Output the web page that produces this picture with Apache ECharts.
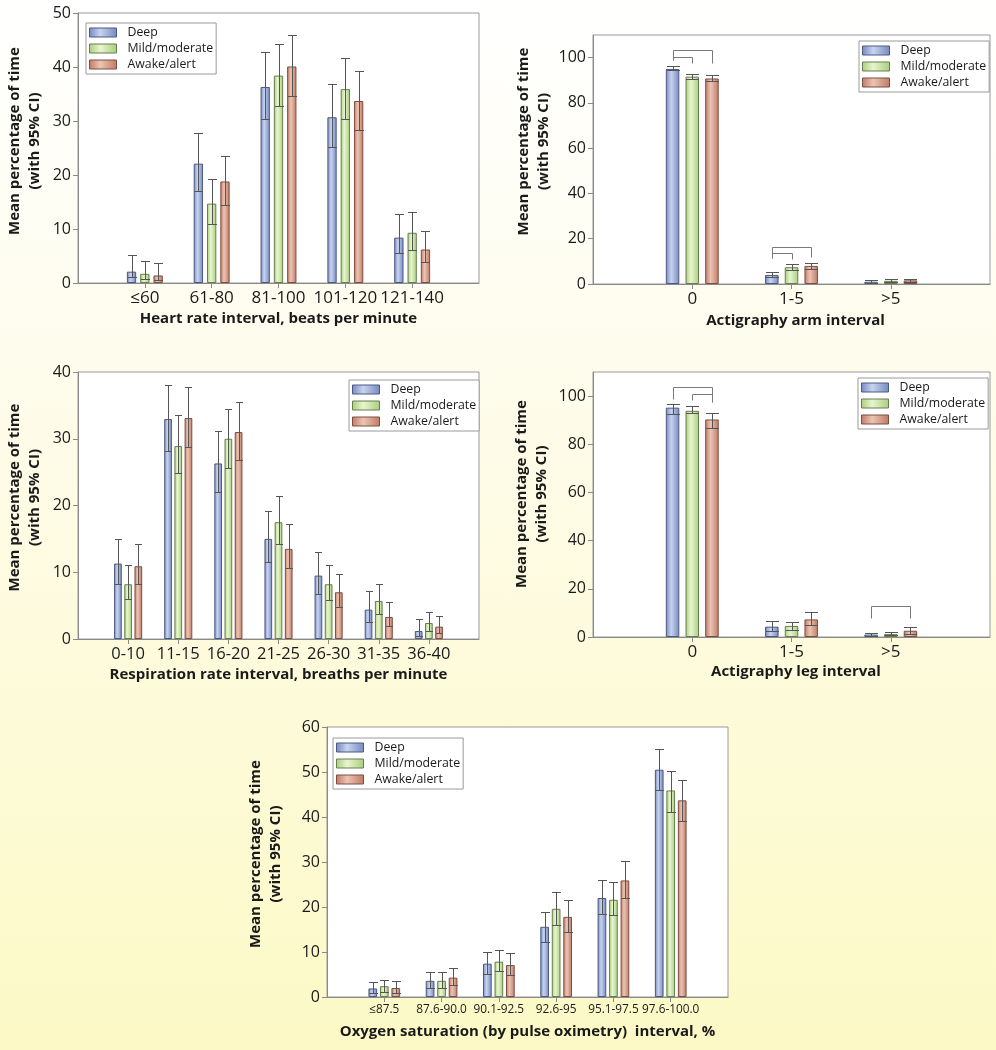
<!DOCTYPE html>
<html>
<head>
<meta charset="utf-8">
<script src="https://cdn.jsdelivr.net/npm/echarts@6/dist/echarts.min.js"></script>
<style>
  html, body { margin: 0; padding: 0; }
  body { width: 996px; height: 1050px; background: linear-gradient(to bottom, #ffffff 0%, #fefcec 35%, #fcf9c6 100%); }
  #chart { width: 996px; height: 1050px; }
</style>
</head>
<body>
<div id="chart"></div>
<script>
// ---------------- DATA ----------------
const seriesNames = ['Deep', 'Mild/moderate', 'Awake/alert'];

// Heart rate
const hrCategories = ['≤60', '61-80', '81-100', '101-120', '121-140'];
const hrDeep  = [2.1, 22.1, 36.3, 30.7, 8.4];
const hrMild  = [1.7, 14.7, 38.4, 35.9, 9.3];
const hrAwake = [1.4, 18.8, 40.1, 33.7, 6.2];
const hrDeepCI  = [[1.05, 5.1], [17.1, 27.7], [30.4, 42.7], [25.1, 36.9], [5.6, 12.8]];
const hrMildCI  = [[0.8, 4.1], [11.0, 19.2], [32.7, 44.3], [30.4, 41.6], [6.2, 13.2]];
const hrAwakeCI = [[0.6, 3.7], [14.5, 23.6], [34.6, 45.9], [28.3, 39.2], [3.9, 9.65]];

// Actigraphy arm
const armCategories = ['0', '1-5', '>5'];
const armDeep  = [95.0, 4.0, 1.0];
const armMild  = [91.6, 7.4, 1.4];
const armAwake = [90.8, 8.0, 1.6];
const armDeepCI  = [[94.5, 96.2], [3.3, 5.3], [0.6, 1.9]];
const armMildCI  = [[90.5, 92.9], [6.3, 8.8], [0.9, 2.0]];
const armAwakeCI = [[89.7, 92.5], [6.8, 9.2], [1.0, 2.2]];
// [category, from series, to series, top, bottom at from, bottom at to]
const armBrackets = [[0, 0, 2, 103.2, 98.9, 97.5], [0, 0, 1, 100.4, 98.9, 97.8],
                     [1, 0, 2, 16.3, 11.4, 11.8], [1, 0, 1, 13.6, 11.4, 10.9]];

// Respiration
const respCategories = ['0-10', '11-15', '16-20', '21-25', '26-30', '31-35', '36-40'];
const respDeep  = [11.3, 32.95, 26.3, 15.0, 9.5, 4.4, 1.2];
const respMild  = [8.2, 28.9, 30.0, 17.5, 8.2, 5.7, 2.4];
const respAwake = [10.9, 33.1, 31.0, 13.5, 7.0, 3.3, 1.85];
const respDeepCI  = [[8.3, 15.0], [28.1, 38.1], [22.0, 31.2], [11.5, 19.2], [6.7, 13.0], [2.6, 7.2], [0.5, 3.0]];
const respMildCI  = [[6.0, 11.1], [24.9, 33.5], [25.6, 34.4], [14.2, 21.4], [5.9, 11.1], [3.8, 8.3], [1.25, 4.1]];
const respAwakeCI = [[8.3, 14.3], [28.7, 37.8], [26.8, 35.5], [10.6, 17.2], [4.8, 9.7], [1.9, 5.6], [0.85, 3.5]];

// Actigraphy leg
const legCategories = ['0', '1-5', '>5'];
const legDeep  = [95.2, 4.3, 1.0];
const legMild  = [93.9, 4.6, 1.2];
const legAwake = [90.3, 7.3, 2.6];
const legDeepCI  = [[92.5, 96.8], [2.6, 6.6], [0.4, 1.8]];
const legMildCI  = [[92.8, 96.0], [2.9, 6.4], [0.7, 1.9]];
const legAwakeCI = [[86.9, 93.1], [4.8, 10.4], [1.2, 4.3]];
const legBrackets = [[0, 0, 2, 103.6, 99.0, 97.5], [0, 1, 2, 100.8, 98.5, 97.5],
                     [2, 0, 2, 13.0, 7.8, 7.8]];

// Oxygen saturation
const oxCategories = ['≤87.5', '87.6-90.0', '90.1-92.5', '92.6-95', '95.1-97.5', '97.6-100.0'];
const oxDeep  = [1.9, 3.6, 7.4, 15.6, 22.0, 50.5];
const oxMild  = [2.4, 3.6, 7.85, 19.6, 21.6, 45.9];
const oxAwake = [2.0, 4.3, 7.1, 17.8, 25.9, 43.7];
const oxDeepCI  = [[0.8, 3.4], [2.1, 5.6], [5.2, 10.1], [12.3, 19.0], [18.5, 26.0], [45.9, 55.2]];
const oxMildCI  = [[1.1, 3.85], [2.1, 5.6], [5.7, 10.5], [16.1, 23.4], [18.2, 25.6], [41.2, 50.3]];
const oxAwakeCI = [[0.9, 3.6], [2.7, 6.5], [4.9, 9.85], [14.5, 21.6], [22.0, 30.2], [39.2, 48.3]];

const yName = 'Mean percentage of time\n(with 95% CI)';

// ---------------- STYLE / LAYOUT ----------------
const FONT = "'Open Sans', sans-serif";
const TEXT = '#1a1a1a';
const fills = [
  { edge: '#7489c0', mid: '#c8d3ef', border: '#4d5a80' },
  { edge: '#a9cd7e', mid: '#e8f5cf', border: '#667f4c' },
  { edge: '#bf7a63', mid: '#ecc4b4', border: '#7d4f42' }
];
function grad(f) {
  return new echarts.graphic.LinearGradient(0, 0, 1, 0, [
    { offset: 0, color: f.edge }, { offset: 0.4, color: f.mid }, { offset: 1, color: f.edge }
  ]);
}

const charts = [
  { cats: hrCategories, means: [hrDeep, hrMild, hrAwake], cis: [hrDeepCI, hrMildCI, hrAwakeCI], brackets: [],
    xName: 'Heart rate interval, beats per minute',
    lay: { left: 78, top: 13, width: 401, height: 270, max: 50, interval: 10, barW: 9.3, gap: 4,
           yGap: 33, yShift: 14, xGap: 28, xShift: 0, labelSize: 17, labelMargin: 7, legend: [86, 23] } },
  { cats: armCategories, means: [armDeep, armMild, armAwake], cis: [armDeepCI, armMildCI, armAwakeCI], brackets: armBrackets,
    xName: 'Actigraphy arm interval',
    lay: { left: 593, top: 35, width: 397, height: 249, max: 110, interval: 20, barW: 13.5, gap: 6.2,
           yGap: 39, yShift: 36, xGap: 29, xShift: 8, labelSize: 17, labelMargin: 7, legend: [859, 41] } },
  { cats: respCategories, means: [respDeep, respMild, respAwake], cis: [respDeepCI, respMildCI, respAwakeCI], brackets: [],
    xName: 'Respiration rate interval, breaths per minute',
    lay: { left: 78, top: 372, width: 401, height: 267, max: 40, interval: 10, barW: 7.7, gap: 2.5,
           yGap: 33, yShift: 16, xGap: 28, xShift: 0, labelSize: 16.5, labelMargin: 7, legend: [349, 380] } },
  { cats: legCategories, means: [legDeep, legMild, legAwake], cis: [legDeepCI, legMildCI, legAwakeCI], brackets: legBrackets,
    xName: 'Actigraphy leg interval',
    lay: { left: 593, top: 372, width: 397, height: 265, max: 110, interval: 20, barW: 13.5, gap: 6.2,
           yGap: 41, yShift: 21, xGap: 27.5, xShift: 9, labelSize: 17, labelMargin: 7, legend: [858, 378] } },
  { cats: oxCategories, means: [oxDeep, oxMild, oxAwake], cis: [oxDeepCI, oxMildCI, oxAwakeCI], brackets: [],
    xName: 'Oxygen saturation (by pulse oximetry)  interval, %',
    lay: { left: 327, top: 727, width: 401, height: 270, max: 60, interval: 10, barW: 8.7, gap: 2.8,
           yGap: 41, yShift: 16, xGap: 27.5, xShift: 0, labelSize: 11.8, labelMargin: 7, legend: [333, 738] } }
];

const grid = [], xAxis = [], yAxis = [], series = [], legend = [];
const px = v => Math.round(v) + 0.5;

charts.forEach((c, gi) => {
  const L = c.lay;
  const padded = [''].concat(c.cats, ['']);
  grid.push({ left: L.left, top: L.top, width: L.width, height: L.height, show: true,
              backgroundColor: '#ffffff', borderColor: '#9a9a9a', borderWidth: 1, containLabel: false });
  xAxis.push({
    type: 'category', gridIndex: gi, data: padded, boundaryGap: false,
    name: c.xName, nameLocation: 'middle', nameGap: L.xGap,
    nameTextStyle: { fontFamily: FONT, fontSize: 15, fontWeight: 'bold', color: TEXT,
                     padding: [0, 0, 0, L.xShift] },
    axisLine: { lineStyle: { color: '#8a8a8a', width: 1 } },
    axisTick: { show: true, length: 5, lineStyle: { color: '#8a8a8a' }, interval: (i, v) => v !== '' },
    axisLabel: { interval: 0, fontFamily: FONT, fontSize: L.labelSize, color: TEXT, margin: L.labelMargin },
    splitLine: { show: false }
  });
  yAxis.push({
    type: 'value', gridIndex: gi, min: 0, max: L.max, interval: L.interval,
    name: yName, nameLocation: 'middle', nameGap: L.yGap, nameRotate: 90,
    nameTextStyle: { fontFamily: FONT, fontSize: 15, fontWeight: 'bold', color: TEXT, lineHeight: 20,
                     padding: [0, 0, 0, L.yShift] },
    axisLine: { show: true, lineStyle: { color: '#8a8a8a', width: 1 } },
    axisTick: { show: true, length: 5, lineStyle: { color: '#8a8a8a' } },
    axisLabel: { fontFamily: FONT, fontSize: 16, color: TEXT, margin: 7, showMaxLabel: L.max % L.interval === 0 },
    splitLine: { show: false }
  });
  const step = L.barW + L.gap;
  c.means.forEach((vals, si) => {
    series.push({
      type: 'bar', name: seriesNames[si], xAxisIndex: gi, yAxisIndex: gi,
      data: ['-'].concat(vals, ['-']),
      barWidth: L.barW, barGap: (L.gap / L.barW * 100) + '%',
      itemStyle: { color: grad(fills[si]), borderColor: fills[si].border, borderWidth: 1 },
      emphasis: { disabled: true }, z: 2
    });
  });
  c.cis.forEach((ci, si) => {
    const off = (si - 1) * step;
    const half = L.barW / 2;
    series.push({
      type: 'custom', name: 'ci' + gi + '_' + si, xAxisIndex: gi, yAxisIndex: gi, z: 5, silent: true,
      data: ci.map((d, k) => [k + 1, d[0], d[1]]),
      encode: { x: 0, y: [1, 2] },
      renderItem: (params, api) => {
        const cat = api.value(0);
        const pLo = api.coord([cat, api.value(1)]);
        const pHi = api.coord([cat, api.value(2)]);
        const x = px(pHi[0] + off);
        const st = { stroke: '#555', lineWidth: 1 };
        return { type: 'group', children: [
          { type: 'line', shape: { x1: x, y1: px(pHi[1]), x2: x, y2: px(pLo[1]) }, style: st },
          { type: 'line', shape: { x1: Math.round(x - half), y1: px(pHi[1]), x2: Math.round(x + half), y2: px(pHi[1]) }, style: st },
          { type: 'line', shape: { x1: Math.round(x - half), y1: px(pLo[1]), x2: Math.round(x + half), y2: px(pLo[1]) }, style: st }
        ] };
      }
    });
  });
  if (c.brackets.length) {
    series.push({
      type: 'custom', name: 'br' + gi, xAxisIndex: gi, yAxisIndex: gi, z: 5, silent: true,
      data: c.brackets.map(b => [b[0] + 1, b[1], b[2], b[3], b[4], b[5]]),
      encode: { x: 0, y: [3, 4, 5] },
      renderItem: (params, api) => {
        const cat = api.value(0);
        const x1 = px(api.coord([cat, 0])[0] + (api.value(1) - 1) * step);
        const x2 = px(api.coord([cat, 0])[0] + (api.value(2) - 1) * step);
        const yT = px(api.coord([cat, api.value(3)])[1]);
        const yL = px(api.coord([cat, api.value(4)])[1]);
        const yR = px(api.coord([cat, api.value(5)])[1]);
        return { type: 'polyline', shape: { points: [[x1, yL], [x1, yT], [x2, yT], [x2, yR]] },
                 style: { stroke: '#7a7a7a', lineWidth: 1, fill: null } };
      }
    });
  }
  legend.push({
    left: L.legend[0], top: L.legend[1], orient: 'vertical',
    data: seriesNames.map((n, si) => ({ name: n, icon: 'rect',
      itemStyle: { color: grad(fills[si]), borderColor: fills[si].border, borderWidth: 1 } })),
    itemWidth: 27, itemHeight: 9, itemGap: 3,
    padding: [3, 3, 3, 3],
    borderColor: '#9a9a9a', borderWidth: 1, backgroundColor: '#ffffff',
    selectedMode: false,
    textStyle: { fontFamily: FONT, fontSize: 12.3, color: TEXT, lineHeight: 13, padding: [0, 0, 0, 6] }
  });
});

const chart = echarts.init(document.getElementById('chart'), null, { renderer: 'canvas' });
chart.setOption({
  backgroundColor: 'transparent',
  animation: false,
  textStyle: { fontFamily: FONT },
  grid, xAxis, yAxis, series, legend
});
</script>
</body>
</html>
